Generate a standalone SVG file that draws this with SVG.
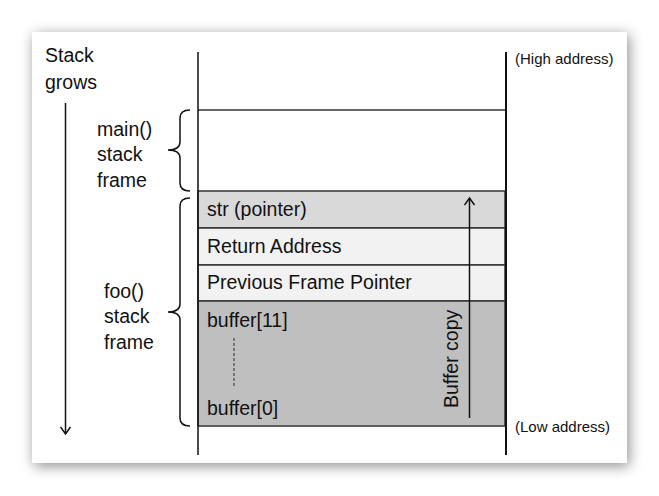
<svg xmlns="http://www.w3.org/2000/svg" width="659" height="496" viewBox="0 0 659 496">
<style>
text{font-family:"Liberation Sans",Arial,sans-serif;fill:#111;}
.lbl{font-size:19.5px;}
.sm{font-size:15px;}
.row{stroke:#333;stroke-width:1.5;}
.brace{fill:none;stroke:#111;stroke-width:1.5;}
.conn{fill:none;stroke:#111;stroke-width:1.5;}
</style>
<defs>
<filter id="sh" x="-10%" y="-10%" width="120%" height="120%">
<feDropShadow dx="2" dy="3" stdDeviation="7" flood-color="#000" flood-opacity="0.45"/>
</filter>
<marker id="ah" viewBox="0 0 12 12" refX="10" refY="6" markerWidth="12" markerHeight="12" markerUnits="userSpaceOnUse" orient="auto">
<path d="M3,1 L10,6 L3,11" fill="none" stroke="#111" stroke-width="1.5"/>
</marker>
</defs>
<rect width="659" height="496" fill="#fff"/>
<rect id="panel" x="32" y="32" width="595" height="431" fill="#fff" filter="url(#sh)"/>

<g id="stack-grows">
<text class="lbl" x="45" y="62">Stack</text>
<text class="lbl" x="45" y="89">grows</text>
</g>

<g id="main-frame">
<rect x="198" y="110" width="307" height="81" fill="#fff"/>
<line class="row" x1="198" y1="110" x2="505" y2="110"/>
<path class="brace" d="M190,110 Q180,110 180,118 L180,142 Q180,150 168,150 Q180,150 180,158 L180,183 Q180,191 190,191"/>
<text class="lbl" x="97" y="136">main()</text>
<text class="lbl" x="97" y="161">stack</text>
<text class="lbl" x="97" y="187">frame</text>
</g>

<g id="str-row">
<rect class="row" x="198" y="191" width="307" height="37" fill="#d9d9d9"/>
<text class="lbl" x="207" y="216">str (pointer)</text>
</g>
<g id="return-row">
<rect class="row" x="198" y="228" width="307" height="37" fill="#f2f2f2"/>
<text class="lbl" x="207" y="253">Return Address</text>
</g>
<g id="prev-row">
<rect class="row" x="198" y="265" width="307" height="36" fill="#f2f2f2"/>
<text class="lbl" x="207" y="289">Previous Frame Pointer</text>
</g>
<g id="buffer-row">
<rect class="row" x="198" y="301" width="307" height="125" fill="#bfbfbf"/>
<text class="lbl" x="207" y="327">buffer[11]</text>
<line x1="234" y1="338" x2="234" y2="387" stroke="#444" stroke-width="1.2" stroke-dasharray="3,2"/>
<text class="lbl" x="207" y="415">buffer[0]</text>
</g>

<g id="foo-frame">
<path class="brace" d="M190,198 Q180,198 180,206 L180,304 Q180,312 168,312 Q180,312 180,320 L180,418 Q180,426 190,426"/>
<text class="lbl" x="104" y="298">foo()</text>
<text class="lbl" x="104" y="323">stack</text>
<text class="lbl" x="104" y="349">frame</text>
</g>

<g id="walls">
<line x1="198" y1="52" x2="198" y2="455" stroke="#111" stroke-width="1.5"/>
<line x1="506" y1="52" x2="506" y2="455" stroke="#111" stroke-width="2"/>
</g>

<g id="addresses">
<text class="sm" x="515" y="64">(High address)</text>
<text class="sm" x="515" y="432">(Low address)</text>
</g>

<g id="connectors">
<line class="conn" x1="65.5" y1="103" x2="65.5" y2="434" marker-end="url(#ah)"/>
<line class="conn" x1="469.5" y1="418" x2="469.5" y2="198" marker-end="url(#ah)"/>
<text class="lbl" transform="translate(458,408) rotate(-90)" x="0" y="0">Buffer copy</text>
</g>
</svg>
